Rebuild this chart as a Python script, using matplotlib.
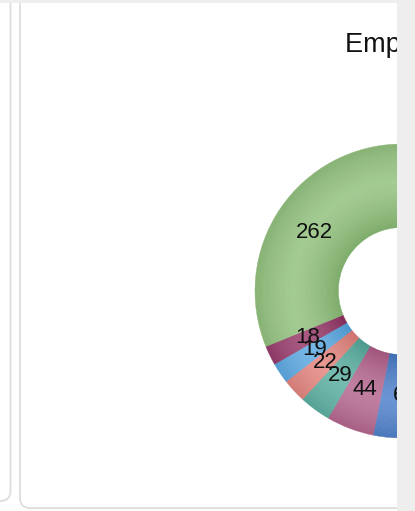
import numpy as np
import matplotlib
matplotlib.use("Agg")
import matplotlib.pyplot as plt
from matplotlib.patches import Wedge, Rectangle, FancyBboxPatch
from matplotlib.colors import to_rgb

# slices in clockwise order from 12 o'clock (the right half is hidden by the page)
values = [118, 95, 90, 82, 62, 44, 29, 22, 19, 18, 262]
colors = ['#e8b44a', '#7a5fb5', '#5cc4d8', '#d9655b', '#4479c8', '#b15d88',
          '#52ab9c', '#e47e77', '#52a5e2', '#922f62', '#8cbf76']
title = "Employees by Department"

W, H = 415, 511
fig = plt.figure(figsize=(W / 100, H / 100), dpi=100)
fig.patch.set_facecolor('white')

# page background: cards and grey strips
bg = fig.add_axes([0, 0, 1, 1])
bg.set_xlim(0, W)
bg.set_ylim(0, H)
bg.axis('off')
bg.add_patch(FancyBboxPatch((-30, 10), 40.5, 530, boxstyle="round,pad=0,rounding_size=10",
                            fc='white', ec='#dddddd', lw=1.3))
bg.add_patch(FancyBboxPatch((20, 3), 430, 540, boxstyle="round,pad=0,rounding_size=10",
                            fc='white', ec='#dddddd', lw=1.3))
bg.add_patch(Rectangle((0, H - 3), W, 3, fc='#eeeeee', ec='none', zorder=5))
bg.add_patch(Rectangle((397, 0), W - 397, H, fc='#eeeeee', ec='none', zorder=5))

# chart area, clipped at the grey strips
ax = fig.add_axes([0, 0, 397 / W, (H - 3) / H])
ax.set_xlim(0, 397)
ax.set_ylim(0, H - 3)
ax.axis('off')
ax.patch.set_alpha(0)

cx, cy = 402, H - 291
R, r_in = 147, 64
lab_r = 105


def shade(c, t):
    c = np.array(to_rgb(c))
    light = 0.2 * max(0.0, 1 - ((t - 0.55) / 0.55) ** 2)
    dark = 0.1 * abs(t - 0.55) / 0.55
    c = c + (1 - c) * light
    return tuple(c * (1 - dark))


total = sum(values)
n_rings = 36
ang = 90.0
for v, col in zip(values, colors):
    span = 360.0 * v / total
    t2, t1 = ang, ang - span
    dr = (R - r_in) / n_rings
    for i in range(n_rings):
        ro = r_in + (i + 1) * dr
        c = shade(col, (i + 0.5) / n_rings)
        ax.add_patch(Wedge((cx, cy), ro, t1, t2, width=dr + 0.4, fc=c, ec=c, lw=0.3))
    mid = np.deg2rad((t1 + t2) / 2)
    lx, ly = cx + lab_r * np.cos(mid), cy + lab_r * np.sin(mid)
    if lx < 420:  # labels further right sit under the grey strip
        ax.text(lx, ly, str(v), ha='center', va='center', fontsize=16,
                family='Liberation Sans', color='#111111', clip_on=True)
    ang = t1

ax.text(345, H - 45, title, ha='left', va='center', fontsize=19.5,
        family='Liberation Sans', color='#111111', clip_on=True)

fig.savefig('out.png', dpi=100, facecolor=fig.get_facecolor())
